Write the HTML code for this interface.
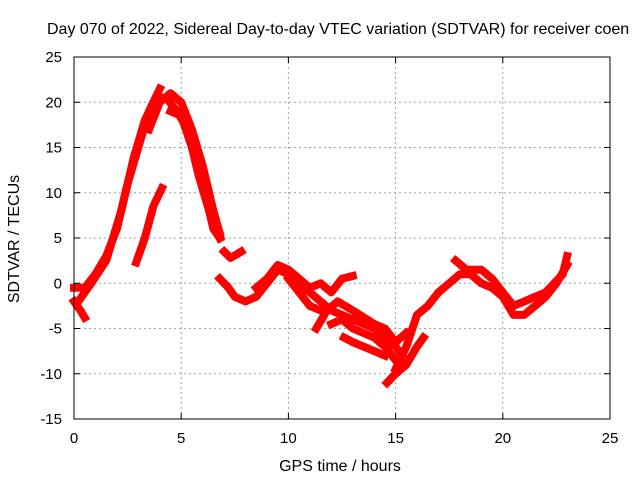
<!DOCTYPE html>
<html><head><meta charset="utf-8"><style>
body{margin:0;background:#fff}
svg{display:block;font-family:"Liberation Sans",sans-serif;font-size:15px}
</style></head><body>
<svg id="chart" width="640" height="480" xmlns="http://www.w3.org/2000/svg">
<text x="47" y="34" font-size="16" fill="#000">Day 070 of 2022, Sidereal Day-to-day VTEC variation (SDTVAR) for receiver coen</text>
<text x="340" y="471" font-size="16" text-anchor="middle">GPS time / hours</text>
<text transform="translate(19,239) rotate(-90)" font-size="16" text-anchor="middle">SDTVAR / TECUs</text>
<g id="grid"></g>
<g id="marks"></g>
<rect x="74" y="57" width="536" height="362" fill="none" stroke="#000" stroke-width="1"/>
<g id="ticks"></g>
</svg>
<script>
const xTicks=[0,5,10,15,20,25];
const yTicks=[-15,-10,-5,0,5,10,15,20,25];
const track1=[[0,-0.5],[0.5,-0.5],[1,1],[1.5,3],[2,6],[2.5,11],[3,15],[3.5,19],[4,21.5]];
const track2=[[0.2,-2],[0.8,0],[1.5,2.5],[2.2,8],[2.8,14],[3.3,18],[3.8,20.5],[4.3,20.5],[4.8,19],[5.3,17],[5.8,12],[6.3,8],[6.8,5]];
const track3=[[3.5,17],[4,20],[4.5,21],[5,20],[5.5,17],[6,13],[6.5,8],[6.8,5.5]];
const track4=[[4.5,19],[5,18.5],[5.5,15],[6,11],[6.5,6],[6.8,5]];
const track5=[[2.9,2.3],[3.3,5],[3.7,8.5],[4.1,10.5]];
const track6=[[0,-2],[0.3,-3],[0.5,-3.8]];
const track7=[[7.0,3.5],[7.3,2.8],[7.6,3.2],[7.8,3.5]];
const track8=[[6.8,0.5],[7.2,-0.5],[7.5,-1.5],[8,-2],[8.5,-1.5],[9,0],[9.5,1.5],[10,1],[10.5,0],[11,-1],[11.5,-2],[12,-3],[12.5,-3.5],[13,-4],[13.5,-4.5],[14,-5],[14.5,-6],[15,-7],[15.3,-8]];
const track9=[[8.5,-0.5],[9,0.5],[9.5,2],[10,1.5],[10.5,0.5],[11,-0.5],[11.5,0],[12,-1],[12.5,0.5],[13,0.8]];
const track10=[[10,0.5],[10.5,-1],[11,-2.5],[11.5,-3]];
const track11=[[11.3,-5],[11.8,-3],[12.3,-2],[13,-3],[14,-4.5],[14.5,-5],[15,-6.5],[15.5,-5.5]];
const track12=[[12,-4.5],[12.5,-4],[13,-5],[13.5,-5.5],[14,-6],[14.5,-7],[15,-8.5]];
const track13=[[12.6,-6],[13,-6.5],[13.5,-7],[14,-7.5],[14.5,-8]];
const track14=[[14.6,-11],[15,-10],[15.5,-9],[16,-7],[16.3,-6]];
const track15=[[15,-9.5],[15.5,-7],[16,-3.5],[16.5,-2.5],[17,-1],[17.5,0],[18,1],[18.5,1],[19,0],[19.5,-0.5],[20,-1.5],[20.5,-3.5],[21,-3.5],[21.5,-2.5],[22,-1.5],[22.5,0],[23,2]];
const track16=[[17.8,2.5],[18.3,1.5],[19,1.5],[19.5,0.5],[20,-1],[20.5,-2.5],[21,-2],[22,-1],[22.8,1],[23,3]];
const tracks=[track1,track2,track3,track4,track5,track6,track7,track8,track9,track10,track11,track12,track13,track14,track15,track16];
const NS="http://www.w3.org/2000/svg";
const X0=74,X1=610,Y0=419,Y1=57;
const xs=h=>X0+(h-0)/25*(X1-X0);
const ys=v=>Y0-(v+15)/40*(Y0-Y1);
const grid=document.getElementById('grid'),ticks=document.getElementById('ticks'),marks=document.getElementById('marks'),svg=document.getElementById('chart');
function mk(tag,attrs,parent){const e=document.createElementNS(NS,tag);for(const k in attrs)e.setAttribute(k,attrs[k]);parent.appendChild(e);return e;}
xTicks.forEach(t=>{
  const x=xs(t);
  if(t>0&&t<25){const g=mk('line',{x1:x,x2:x,y1:Y1,y2:Y0,stroke:'#a0a0a0','stroke-dasharray':'2,3'},grid);
  
  }
  const tk=mk('path',{d:`M${x},${Y0}v-6M${x},${Y1}v6`,stroke:'#000'},ticks);
  
  
  const l=mk('text',{x:x,y:443,'text-anchor':'middle'},svg);l.textContent=t;
  
  
});
yTicks.forEach(t=>{
  const y=ys(t);
  if(t>-15&&t<25){const g=mk('line',{x1:X0,x2:X1,y1:y,y2:y,stroke:'#a0a0a0','stroke-dasharray':'2,3'},grid);
  
  }
  const tk=mk('path',{d:`M${X0},${y}h6M${X1},${y}h-6`,stroke:'#000'},ticks);
  
  
  const l=mk('text',{x:62,y:y+5,'text-anchor':'end'},svg);l.textContent=t;
  
  
});
tracks.forEach((tr,i)=>{
  const d=tr.map((p,j)=>(j?'L':'M')+xs(p[0]).toFixed(1)+','+ys(p[1]).toFixed(1)).join('');
  const p=mk('path',{d:d,fill:'none',stroke:'#ff0000','stroke-width':8,'stroke-linejoin':'round','stroke-linecap':'square'},marks);
  
  
});
</script>
</body></html>
